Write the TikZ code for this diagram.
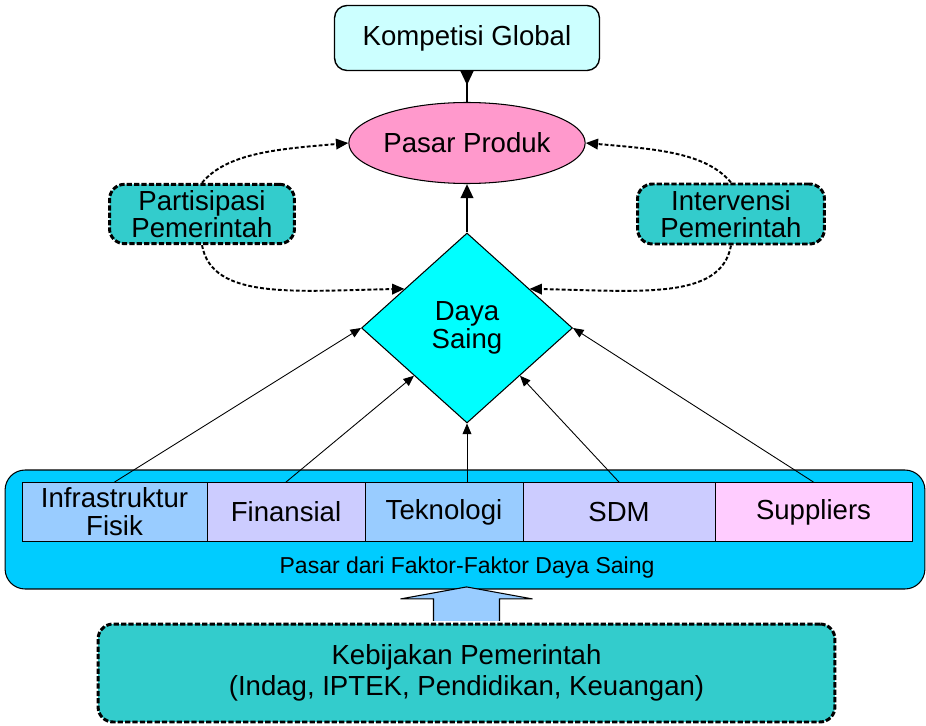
\documentclass[tikz,border=0pt]{standalone}
\usepackage{fontspec}
\setmainfont{Liberation Sans}
\usetikzlibrary{shapes.geometric,arrows.meta}
\definecolor{kompfill}{HTML}{CCFFFF}
\definecolor{pasarfill}{HTML}{FF99CC}
\definecolor{govfill}{HTML}{33CCCC}
\definecolor{dayafill}{HTML}{00FFFF}
\definecolor{faktorfill}{HTML}{00CCFF}
\definecolor{bluecell}{HTML}{99CCFF}
\definecolor{lilaccell}{HTML}{CCCCFF}
\definecolor{pinkcell}{HTML}{FFCCFF}
\tikzset{
govbox/.style={draw,line width=1.7pt,dash pattern=on 3pt off 1.2pt,rounded corners=0.3cm,fill=govfill,align=center,font=\fontsize{15.7}{15.6}\selectfont},
cell/.style={draw,line width=0.5pt,minimum height=1.18cm,inner sep=0pt,align=center,font=\fontsize{15.7}{16}\selectfont},
govarrow/.style={line width=1.1pt,dash pattern=on 2.2pt off 1.2pt,-{Triangle[length=7pt,width=6pt]}},
faktorarrow/.style={line width=0.5pt,-{Triangle[length=6pt,width=5pt]}}
}
\begin{document}
\begin{tikzpicture}[x=0.02cm,y=-0.02cm]
\useasboundingbox (0,0) rectangle (926,726);
\node[draw,thick,rounded corners=0.25cm,fill=kompfill,minimum width=5.3cm,minimum height=1.3cm,font=\fontsize{15.7}{16}\selectfont] (komp) at (467,38) {Kompetisi Global};
\node[ellipse,draw,line width=0.6pt,fill=pasarfill,minimum width=4.2cm,minimum height=1.62cm,inner sep=0pt,font=\fontsize{15.7}{16}\selectfont] (pasar) at (467,143) {Pasar Produk};
\node[govbox,minimum width=3.7cm,minimum height=1.18cm] (partisipasi) at (202,214) {Partisipasi\\Pemerintah};
\node[govbox,minimum width=3.74cm,minimum height=1.2cm] (intervensi) at (731,214) {Intervensi\\Pemerintah};
\node[diamond,draw,line width=0.6pt,fill=dayafill,minimum width=4.22cm,minimum height=3.8cm,inner sep=0pt,align=center,font=\fontsize{15.7}{16}\selectfont] (daya) at (467,328) {Daya\\Saing};
\node[draw,line width=0.6pt,rounded corners=0.4cm,fill=faktorfill,minimum width=18.4cm,minimum height=2.38cm] (faktor) at (465,529.5) {};
\node[font=\fontsize{13.1}{14}\selectfont] (faktorlabel) at (467,568) {Pasar dari Faktor-Faktor Daya Saing};
\node[cell,fill=bluecell,minimum width=3.7cm] (infra) at (114.5,512) {Infrastruktur\\Fisik};
\node[cell,fill=lilaccell,minimum width=3.16cm] (finansial) at (286,512) {Finansial};
\node[cell,fill=bluecell,minimum width=3.16cm] (teknologi) at (444,512) {Teknologi};
\node[cell,fill=lilaccell,minimum width=3.84cm] (sdm) at (619,512) {SDM};
\node[cell,fill=pinkcell,minimum width=3.94cm] (suppliers) at (813.5,512) {Suppliers};
\node[govbox,minimum width=14.74cm,minimum height=1.96cm,font=\fontsize{15.7}{17.5}\selectfont] (kebijakan) at (466.5,673) {Kebijakan Pemerintah\\(Indag, IPTEK, Pendidikan, Keuangan)};
% block arrow from the policy box up to the factor markets
\draw[fill=bluecell,line width=0.6pt] ([xshift=-0.66cm,yshift=0.9pt]kebijakan.north) -- ++(0,-22) -- ++(-33,0) -- ++(66,-12) -- ++(66,12) -- ++(-33,0) -- ++(0,22);
\draw[line width=1.5pt,-{Triangle[length=8pt,width=7pt]}] (daya) -- (pasar);
\draw[line width=1.5pt,-{Triangle[reversed,length=8pt,width=7pt]}] (pasar) -- (komp);
\draw[govarrow] (partisipasi.north) .. controls +(25,-30) and +(-70,6) .. (pasar.west);
\draw[govarrow] (partisipasi.south) .. controls +(10,55) and +(-110,2) .. (daya.148);
\draw[govarrow] (intervensi.north) .. controls +(-25,-30) and +(70,6) .. (pasar.east);
\draw[govarrow] (intervensi.south) .. controls +(-10,55) and +(110,2) .. (daya.32);
\draw[faktorarrow] (infra.north) -- (daya.west);
\draw[faktorarrow] (finansial.north) -- (daya.south west);
\draw[faktorarrow] (daya.south |- teknologi.north) -- (daya.south);
\draw[faktorarrow] (sdm.north) -- (daya.south east);
\draw[faktorarrow] (suppliers.north) -- (daya.east);
\end{tikzpicture}
\end{document}
